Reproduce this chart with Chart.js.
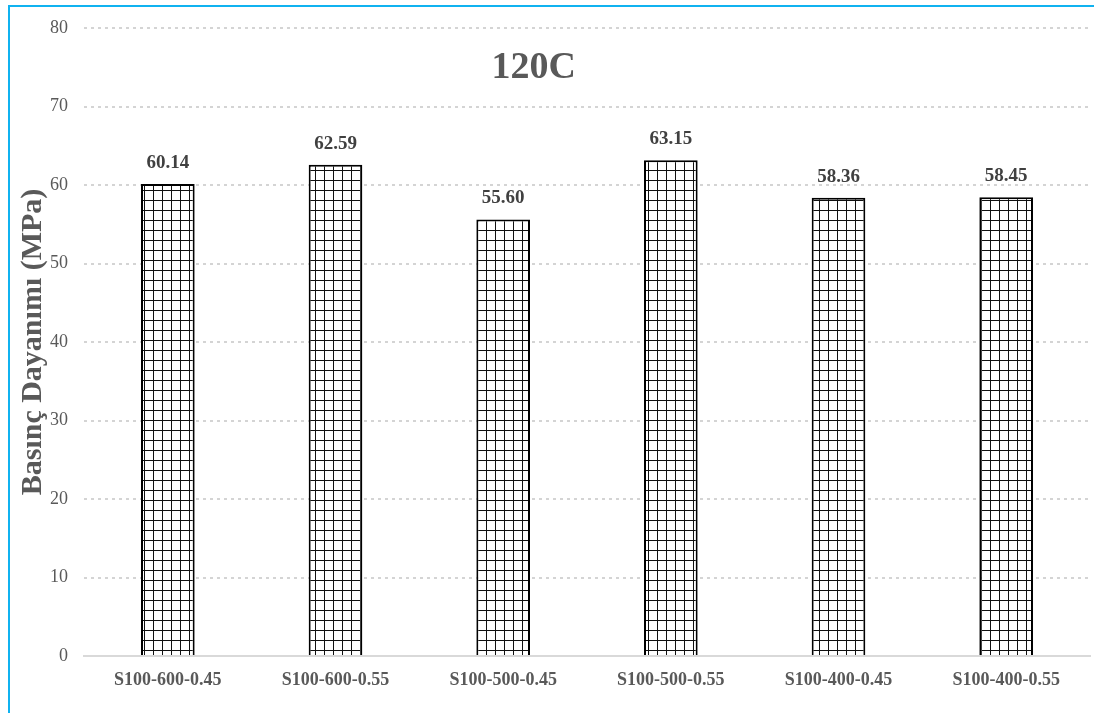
<!DOCTYPE html>
<html>
<head>
<meta charset="utf-8">
<script src="https://cdn.jsdelivr.net/npm/chart.js@4.4.1/dist/chart.umd.min.js"></script>
<style>
  html, body { margin: 0; padding: 0; background: #ffffff; }
  #wrap { position: relative; width: 1094px; height: 713px; overflow: hidden; }
  #frame { position: absolute; left: 8px; top: 5px; right: -10px; bottom: -10px;
           border-top: 2px solid #10b2f0; border-left: 2px solid #10b2f0; pointer-events: none; }
  canvas { position: absolute; left: 0; top: 0; }
</style>
</head>
<body>
<div id="wrap">
  <canvas id="chart" width="1094" height="713"></canvas>
  <div id="frame"></div>
</div>
<script>
// Compressive strength of each mix after 120 °C exposure
const categories = ['S100-600-0.45', 'S100-600-0.55', 'S100-500-0.45', 'S100-500-0.55', 'S100-400-0.45', 'S100-400-0.55'];
const strengths = [60.14, 62.59, 55.60, 63.15, 58.36, 58.45];
const yTicks = [0, 10, 20, 30, 40, 50, 60, 70, 80];
const chartTitle = '120C';
const yAxisTitle = 'Basınç Dayanımı (MPa)';

const SERIF = '"Liberation Serif", "Times New Roman", serif';

// Square-grid hatch fill used for the bars
function gridPattern() {
  const c = document.createElement('canvas');
  c.width = 9; c.height = 10;
  const g = c.getContext('2d');
  g.fillStyle = '#ffffff';
  g.fillRect(0, 0, 9, 10);
  g.strokeStyle = '#111111';
  g.lineWidth = 1;
  g.beginPath();
  g.moveTo(0.5, 0); g.lineTo(0.5, 10);
  g.moveTo(0, 0.5); g.lineTo(9, 0.5);
  g.stroke();
  return g.createPattern(c, 'repeat');
}

// Value labels above the bars
const valueLabels = {
  id: 'valueLabels',
  afterDatasetsDraw(chart) {
    const ctx = chart.ctx;
    const meta = chart.getDatasetMeta(0);
    ctx.save();
    ctx.font = 'bold 19px ' + SERIF;
    ctx.fillStyle = '#404040';
    ctx.textAlign = 'center';
    ctx.textBaseline = 'middle';
    meta.data.forEach((bar, i) => {
      ctx.fillText(strengths[i].toFixed(2), bar.x, bar.y - 21);
    });
    ctx.restore();
  }
};

// Chart title drawn inside the plot area
const innerTitle = {
  id: 'innerTitle',
  afterDraw(chart) {
    const a = chart.chartArea;
    const ctx = chart.ctx;
    ctx.save();
    ctx.font = 'bold 38px ' + SERIF;
    ctx.fillStyle = '#595959';
    ctx.textAlign = 'center';
    ctx.textBaseline = 'middle';
    ctx.fillText(chartTitle, a.left + (a.right - a.left) * 0.447, a.top + 40);
    ctx.restore();
  }
};

new Chart(document.getElementById('chart'), {
  type: 'bar',
  data: {
    labels: categories,
    datasets: [{
      data: strengths,
      backgroundColor: gridPattern(),
      borderColor: '#000000',
      borderWidth: 2,
      barPercentage: 0.32,
      categoryPercentage: 1.0
    }]
  },
  options: {
    responsive: false,
    animation: false,
    devicePixelRatio: 1,
    layout: { padding: { top: 28, right: 4, bottom: 0, left: 0 } },
    plugins: {
      legend: { display: false },
      title: { display: false },
      tooltip: { enabled: false }
    },
    scales: {
      x: {
        grid: { display: false, drawTicks: false },
        border: { display: true, color: '#d9d9d9', width: 2 },
        ticks: {
          color: '#595959',
          font: { family: SERIF, size: 18, weight: 'bold' },
          padding: 14,
          maxRotation: 0
        },
        afterFit(scale) { scale.height = 57; }
      },
      y: {
        min: 0,
        max: 80,
        afterBuildTicks(scale) { scale.ticks = yTicks.map(v => ({ value: v })); },
        grid: {
          color: '#d4d4d4',
          lineWidth: 2,
          drawTicks: false
        },
        border: { display: false, dash: [3, 4] },
        ticks: {
          color: '#595959',
          font: { family: SERIF, size: 18 },
          padding: 16
        },
        title: {
          display: true,
          text: yAxisTitle,
          color: '#595959',
          font: { family: SERIF, size: 30, weight: 'bold' },
          padding: { top: 15, bottom: 0 }
        },
        afterFit(scale) { scale.width = 84; }
      }
    }
  },
  plugins: [valueLabels, innerTitle]
});
</script>
</body>
</html>
